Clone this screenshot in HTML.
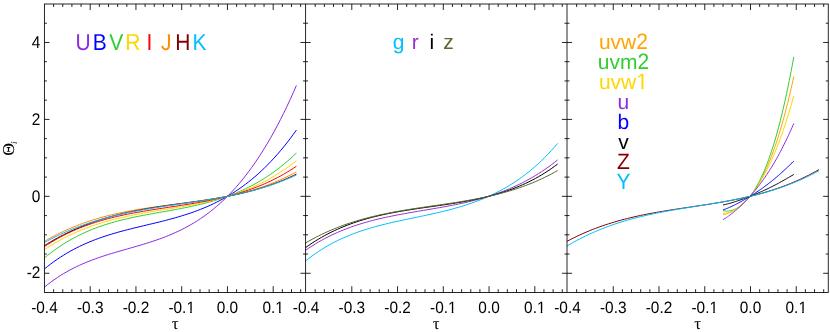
<!DOCTYPE html>
<html><head><meta charset="utf-8"><title>chart</title><style>html,body{margin:0;padding:0;background:#fff}svg{display:block;will-change:transform}svg text{text-rendering:geometricPrecision}</style></head><body>
<svg width="830" height="332" viewBox="0 0 830 332">
<rect width="830" height="332" fill="#fff"/>
<g fill="none" stroke-width="1.0" stroke-linecap="butt" stroke-linejoin="round">
<polyline stroke="#8a2be2" points="44.45,287.11 47.64,284.56 50.83,282.13 54.02,279.83 57.21,277.65 60.40,275.58 63.59,273.62 66.77,271.77 69.96,270.01 73.15,268.34 76.34,266.76 79.53,265.26 82.72,263.83 85.91,262.48 89.10,261.19 92.29,259.96 95.48,258.78 98.67,257.66 101.86,256.58 105.04,255.53 108.23,254.53 111.42,253.55 114.61,252.59 117.80,251.66 120.99,250.74 124.18,249.83 127.37,248.92 130.56,248.01 133.75,247.10 136.94,246.18 140.13,245.24 143.31,244.29 146.50,243.31 149.69,242.30 152.88,241.26 156.07,240.18 159.26,239.06 162.45,237.89 165.64,236.67 168.83,235.40 172.02,234.06 175.21,232.65 178.40,231.18 181.58,229.63 184.77,228.00 187.96,226.29 191.15,224.49 194.34,222.60 197.53,220.61 200.72,218.51 203.91,216.31 207.10,214.00 210.29,211.57 213.48,209.03 216.67,206.35 219.85,203.55 223.04,200.62 226.23,197.54 229.42,194.33 232.61,190.96 235.80,187.44 238.99,183.77 242.18,179.94 245.37,175.93 248.56,171.76 251.75,167.41 254.94,162.89 258.13,158.17 261.31,153.27 264.50,148.17 267.69,142.88 270.88,137.38 274.07,131.67 277.26,125.75 280.45,119.61 283.64,113.25 286.83,106.66 290.02,99.83 293.21,92.77 296.40,85.47"/>
<polyline stroke="#0000ff" points="44.45,268.93 47.64,266.36 50.83,263.90 54.02,261.56 57.21,259.33 60.40,257.20 63.59,255.17 66.77,253.24 69.96,251.40 73.15,249.66 76.34,247.99 79.53,246.41 82.72,244.90 85.91,243.47 89.10,242.10 92.29,240.80 95.48,239.56 98.67,238.38 101.86,237.26 105.04,236.18 108.23,235.15 111.42,234.16 114.61,233.21 117.80,232.30 120.99,231.42 124.18,230.56 127.37,229.73 130.56,228.92 133.75,228.13 136.94,227.35 140.13,226.58 143.31,225.82 146.50,225.06 149.69,224.30 152.88,223.54 156.07,222.77 159.26,221.99 162.45,221.19 165.64,220.38 168.83,219.54 172.02,218.68 175.21,217.79 178.40,216.88 181.58,215.92 184.77,214.93 187.96,213.90 191.15,212.82 194.34,211.69 197.53,210.52 200.72,209.28 203.91,207.99 207.10,206.64 210.29,205.22 213.48,203.73 216.67,202.18 219.85,200.54 223.04,198.83 226.23,197.04 229.42,195.16 232.61,193.20 235.80,191.14 238.99,188.98 242.18,186.73 245.37,184.38 248.56,181.92 251.75,179.35 254.94,176.67 258.13,173.88 261.31,170.96 264.50,167.93 267.69,164.77 270.88,161.47 274.07,158.05 277.26,154.49 280.45,150.79 283.64,146.95 286.83,142.96 290.02,138.82 293.21,134.53 296.40,130.08"/>
<polyline stroke="#32cd32" points="44.45,257.97 47.64,255.35 50.83,252.85 54.02,250.47 57.21,248.19 60.40,246.03 63.59,243.96 66.77,241.99 69.96,240.12 73.15,238.34 76.34,236.65 79.53,235.04 82.72,233.51 85.91,232.06 89.10,230.68 92.29,229.37 95.48,228.13 98.67,226.95 101.86,225.84 105.04,224.78 108.23,223.77 111.42,222.81 114.61,221.91 117.80,221.04 120.99,220.22 124.18,219.43 127.37,218.68 130.56,217.96 133.75,217.28 136.94,216.61 140.13,215.97 143.31,215.35 146.50,214.74 149.69,214.15 152.88,213.57 156.07,213.00 159.26,212.44 162.45,211.87 165.64,211.31 168.83,210.74 172.02,210.17 175.21,209.58 178.40,208.99 181.58,208.38 184.77,207.76 187.96,207.11 191.15,206.44 194.34,205.74 197.53,205.02 200.72,204.27 203.91,203.48 207.10,202.65 210.29,201.79 213.48,200.88 216.67,199.93 219.85,198.93 223.04,197.87 226.23,196.77 229.42,195.61 232.61,194.39 235.80,193.10 238.99,191.76 242.18,190.34 245.37,188.85 248.56,187.29 251.75,185.66 254.94,183.94 258.13,182.14 261.31,180.26 264.50,178.29 267.69,176.22 270.88,174.07 274.07,171.81 277.26,169.46 280.45,167.00 283.64,164.43 286.83,161.75 290.02,158.96 293.21,156.06 296.40,153.03"/>
<polyline stroke="#ffd700" points="44.45,249.62 47.64,247.53 50.83,245.52 54.02,243.59 57.21,241.73 60.40,239.96 63.59,238.26 66.77,236.63 69.96,235.07 73.15,233.58 76.34,232.15 79.53,230.79 82.72,229.48 85.91,228.24 89.10,227.05 92.29,225.91 95.48,224.82 98.67,223.79 101.86,222.80 105.04,221.85 108.23,220.95 111.42,220.09 114.61,219.26 117.80,218.47 120.99,217.72 124.18,216.99 127.37,216.29 130.56,215.62 133.75,214.98 136.94,214.36 140.13,213.75 143.31,213.16 146.50,212.59 149.69,212.04 152.88,211.49 156.07,210.95 159.26,210.42 162.45,209.89 165.64,209.36 168.83,208.84 172.02,208.31 175.21,207.77 178.40,207.23 181.58,206.68 184.77,206.12 187.96,205.54 191.15,204.95 194.34,204.34 197.53,203.71 200.72,203.05 203.91,202.37 207.10,201.66 210.29,200.92 213.48,200.15 216.67,199.35 219.85,198.50 223.04,197.62 226.23,196.70 229.42,195.73 232.61,194.71 235.80,193.65 238.99,192.53 242.18,191.36 245.37,190.14 248.56,188.85 251.75,187.51 254.94,186.10 258.13,184.62 261.31,183.08 264.50,181.46 267.69,179.77 270.88,178.00 274.07,176.16 277.26,174.23 280.45,172.22 283.64,170.13 286.83,167.94 290.02,165.66 293.21,163.29 296.40,160.82"/>
<polyline stroke="#ff0000" points="44.45,246.62 47.64,244.53 50.83,242.53 54.02,240.62 57.21,238.79 60.40,237.05 63.59,235.38 66.77,233.78 69.96,232.26 73.15,230.81 76.34,229.43 79.53,228.10 82.72,226.84 85.91,225.64 89.10,224.50 92.29,223.41 95.48,222.36 98.67,221.37 101.86,220.43 105.04,219.52 108.23,218.66 111.42,217.84 114.61,217.05 117.80,216.30 120.99,215.58 124.18,214.89 127.37,214.23 130.56,213.60 133.75,212.99 136.94,212.40 140.13,211.83 143.31,211.27 146.50,210.74 149.69,210.21 152.88,209.70 156.07,209.20 159.26,208.70 162.45,208.22 165.64,207.73 168.83,207.25 172.02,206.76 175.21,206.28 178.40,205.79 181.58,205.29 184.77,204.79 187.96,204.27 191.15,203.75 194.34,203.21 197.53,202.66 200.72,202.09 203.91,201.49 207.10,200.88 210.29,200.25 213.48,199.58 216.67,198.89 219.85,198.18 223.04,197.43 226.23,196.64 229.42,195.82 232.61,194.96 235.80,194.07 238.99,193.13 242.18,192.14 245.37,191.11 248.56,190.03 251.75,188.90 254.94,187.72 258.13,186.47 261.31,185.17 264.50,183.81 267.69,182.39 270.88,180.90 274.07,179.34 277.26,177.71 280.45,176.01 283.64,174.23 286.83,172.37 290.02,170.43 293.21,168.40 296.40,166.28"/>
<polyline stroke="#ff8c00" points="44.45,241.37 47.64,239.53 50.83,237.76 54.02,236.06 57.21,234.42 60.40,232.84 63.59,231.33 66.77,229.87 69.96,228.47 73.15,227.12 76.34,225.84 79.53,224.60 82.72,223.42 85.91,222.29 89.10,221.20 92.29,220.17 95.48,219.18 98.67,218.23 101.86,217.32 105.04,216.46 108.23,215.64 111.42,214.85 114.61,214.10 117.80,213.38 120.99,212.70 124.18,212.04 127.37,211.42 130.56,210.82 133.75,210.25 136.94,209.70 140.13,209.18 143.31,208.67 146.50,208.18 149.69,207.71 152.88,207.25 156.07,206.81 159.26,206.38 162.45,205.96 165.64,205.54 168.83,205.13 172.02,204.72 175.21,204.32 178.40,203.92 181.58,203.51 184.77,203.10 187.96,202.68 191.15,202.26 194.34,201.83 197.53,201.39 200.72,200.93 203.91,200.46 207.10,199.97 210.29,199.46 213.48,198.94 216.67,198.39 219.85,197.81 223.04,197.21 226.23,196.58 229.42,195.92 232.61,195.23 235.80,194.51 238.99,193.75 242.18,192.95 245.37,192.11 248.56,191.23 251.75,190.31 254.94,189.35 258.13,188.33 261.31,187.27 264.50,186.16 267.69,185.00 270.88,183.78 274.07,182.51 277.26,181.17 280.45,179.78 283.64,178.33 286.83,176.82 290.02,175.24 293.21,173.59 296.40,171.88"/>
<polyline stroke="#800000" points="44.45,245.52 47.64,243.56 50.83,241.66 54.02,239.83 57.21,238.07 60.40,236.36 63.59,234.71 66.77,233.13 69.96,231.60 73.15,230.13 76.34,228.71 79.53,227.35 82.72,226.04 85.91,224.78 89.10,223.58 92.29,222.42 95.48,221.31 98.67,220.24 101.86,219.22 105.04,218.24 108.23,217.30 111.42,216.41 114.61,215.55 117.80,214.73 120.99,213.94 124.18,213.18 127.37,212.46 130.56,211.77 133.75,211.11 136.94,210.47 140.13,209.86 143.31,209.27 146.50,208.71 149.69,208.16 152.88,207.63 156.07,207.12 159.26,206.63 162.45,206.15 165.64,205.68 168.83,205.22 172.02,204.77 175.21,204.32 178.40,203.88 181.58,203.44 184.77,203.00 187.96,202.56 191.15,202.12 194.34,201.68 197.53,201.22 200.72,200.76 203.91,200.29 207.10,199.81 210.29,199.31 213.48,198.80 216.67,198.27 219.85,197.73 223.04,197.16 226.23,196.57 229.42,195.95 232.61,195.31 235.80,194.63 238.99,193.93 242.18,193.20 245.37,192.43 248.56,191.63 251.75,190.79 254.94,189.91 258.13,188.99 261.31,188.02 264.50,187.02 267.69,185.96 270.88,184.86 274.07,183.71 277.26,182.50 280.45,181.24 283.64,179.93 286.83,178.56 290.02,177.13 293.21,175.64 296.40,174.09"/>
<polyline stroke="#00bfff" points="44.45,242.52 47.64,240.77 50.83,239.08 54.02,237.46 57.21,235.89 60.40,234.37 63.59,232.91 66.77,231.50 69.96,230.15 73.15,228.84 76.34,227.58 79.53,226.37 82.72,225.21 85.91,224.09 89.10,223.01 92.29,221.97 95.48,220.97 98.67,220.01 101.86,219.09 105.04,218.20 108.23,217.34 111.42,216.52 114.61,215.73 117.80,214.97 120.99,214.24 124.18,213.53 127.37,212.85 130.56,212.19 133.75,211.56 136.94,210.95 140.13,210.35 143.31,209.78 146.50,209.22 149.69,208.68 152.88,208.15 156.07,207.63 159.26,207.13 162.45,206.63 165.64,206.14 168.83,205.67 172.02,205.19 175.21,204.72 178.40,204.25 181.58,203.79 184.77,203.32 187.96,202.85 191.15,202.38 194.34,201.91 197.53,201.42 200.72,200.94 203.91,200.44 207.10,199.93 210.29,199.41 213.48,198.87 216.67,198.32 219.85,197.76 223.04,197.17 226.23,196.57 229.42,195.94 232.61,195.30 235.80,194.62 238.99,193.93 242.18,193.20 245.37,192.45 248.56,191.66 251.75,190.84 254.94,189.99 258.13,189.10 261.31,188.18 264.50,187.21 267.69,186.21 270.88,185.16 274.07,184.07 277.26,182.93 280.45,181.75 283.64,180.51 286.83,179.23 290.02,177.89 293.21,176.49 296.40,175.04"/>
<polyline stroke="#00bfff" points="305.65,260.96 308.84,258.43 312.03,256.01 315.22,253.72 318.41,251.54 321.60,249.47 324.79,247.50 327.97,245.63 331.16,243.86 334.35,242.18 337.54,240.58 340.73,239.06 343.92,237.62 347.11,236.25 350.30,234.95 353.49,233.71 356.68,232.53 359.87,231.42 363.06,230.35 366.24,229.33 369.43,228.36 372.62,227.44 375.81,226.55 379.00,225.69 382.19,224.87 385.38,224.08 388.57,223.32 391.76,222.57 394.95,221.85 398.14,221.15 401.33,220.46 404.51,219.78 407.70,219.11 410.89,218.44 414.08,217.78 417.27,217.11 420.46,216.45 423.65,215.78 426.84,215.10 430.03,214.40 433.22,213.70 436.41,212.98 439.60,212.23 442.78,211.47 445.97,210.68 449.16,209.86 452.35,209.02 455.54,208.14 458.73,207.22 461.92,206.27 465.11,205.27 468.30,204.23 471.49,203.14 474.68,202.00 477.87,200.81 481.05,199.56 484.24,198.25 487.43,196.87 490.62,195.44 493.81,193.93 497.00,192.35 500.19,190.69 503.38,188.95 506.57,187.13 509.76,185.22 512.95,183.23 516.14,181.13 519.33,178.94 522.51,176.65 525.70,174.25 528.89,171.74 532.08,169.11 535.27,166.37 538.46,163.50 541.65,160.50 544.84,157.37 548.03,154.10 551.22,150.68 554.41,147.12 557.60,143.41"/>
<polyline stroke="#9932cc" points="305.65,250.23 308.84,248.06 312.03,245.98 315.22,244.00 318.41,242.10 321.60,240.29 324.79,238.56 327.97,236.91 331.16,235.34 334.35,233.84 337.54,232.41 340.73,231.04 343.92,229.74 347.11,228.50 350.30,227.32 353.49,226.20 356.68,225.12 359.87,224.10 363.06,223.13 366.24,222.20 369.43,221.31 372.62,220.46 375.81,219.65 379.00,218.88 382.19,218.14 385.38,217.42 388.57,216.74 391.76,216.08 394.95,215.44 398.14,214.83 401.33,214.23 404.51,213.65 407.70,213.08 410.89,212.52 414.08,211.97 417.27,211.43 420.46,210.89 423.65,210.35 426.84,209.82 430.03,209.28 433.22,208.74 436.41,208.19 439.60,207.63 442.78,207.07 445.97,206.48 449.16,205.89 452.35,205.27 455.54,204.64 458.73,203.98 461.92,203.30 465.11,202.59 468.30,201.86 471.49,201.09 474.68,200.29 477.87,199.45 481.05,198.58 484.24,197.67 487.43,196.71 490.62,195.71 493.81,194.66 497.00,193.56 500.19,192.41 503.38,191.21 506.57,189.95 509.76,188.63 512.95,187.25 516.14,185.80 519.33,184.29 522.51,182.71 525.70,181.05 528.89,179.32 532.08,177.52 535.27,175.63 538.46,173.66 541.65,171.61 544.84,169.46 548.03,167.23 551.22,164.90 554.41,162.47 557.60,159.94"/>
<polyline stroke="#000000" points="305.65,247.54 308.84,245.30 312.03,243.15 315.22,241.11 318.41,239.16 321.60,237.29 324.79,235.52 327.97,233.83 331.16,232.21 334.35,230.68 337.54,229.22 340.73,227.83 343.92,226.50 347.11,225.24 350.30,224.05 353.49,222.91 356.68,221.83 359.87,220.80 363.06,219.82 366.24,218.90 369.43,218.01 372.62,217.17 375.81,216.38 379.00,215.62 382.19,214.89 385.38,214.20 388.57,213.54 391.76,212.91 394.95,212.31 398.14,211.73 401.33,211.17 404.51,210.64 407.70,210.12 410.89,209.62 414.08,209.13 417.27,208.65 420.46,208.18 423.65,207.72 426.84,207.26 430.03,206.81 433.22,206.36 436.41,205.90 439.60,205.44 442.78,204.98 445.97,204.51 449.16,204.03 452.35,203.53 455.54,203.02 458.73,202.50 461.92,201.95 465.11,201.39 468.30,200.80 471.49,200.19 474.68,199.54 477.87,198.87 481.05,198.16 484.24,197.42 487.43,196.64 490.62,195.82 493.81,194.96 497.00,194.05 500.19,193.09 503.38,192.08 506.57,191.01 509.76,189.89 512.95,188.71 516.14,187.47 519.33,186.16 522.51,184.78 525.70,183.33 528.89,181.80 532.08,180.19 535.27,178.51 538.46,176.73 541.65,174.87 544.84,172.91 548.03,170.86 551.22,168.70 554.41,166.44 557.60,164.07"/>
<polyline stroke="#556b2f" points="305.65,242.94 308.84,241.10 312.03,239.33 315.22,237.62 318.41,235.99 321.60,234.42 324.79,232.91 327.97,231.47 331.16,230.08 334.35,228.76 337.54,227.48 340.73,226.27 343.92,225.10 347.11,223.98 350.30,222.91 353.49,221.89 356.68,220.91 359.87,219.97 363.06,219.07 366.24,218.21 369.43,217.38 372.62,216.60 375.81,215.84 379.00,215.11 382.19,214.41 385.38,213.75 388.57,213.10 391.76,212.48 394.95,211.88 398.14,211.31 401.33,210.75 404.51,210.21 407.70,209.68 410.89,209.17 414.08,208.67 417.27,208.18 420.46,207.70 423.65,207.22 426.84,206.75 430.03,206.29 433.22,205.83 436.41,205.36 439.60,204.90 442.78,204.43 445.97,203.96 449.16,203.48 452.35,202.99 455.54,202.50 458.73,201.99 461.92,201.47 465.11,200.93 468.30,200.37 471.49,199.80 474.68,199.21 477.87,198.60 481.05,197.96 484.24,197.30 487.43,196.60 490.62,195.88 493.81,195.13 497.00,194.35 500.19,193.53 503.38,192.67 506.57,191.78 509.76,190.85 512.95,189.87 516.14,188.85 519.33,187.78 522.51,186.66 525.70,185.49 528.89,184.27 532.08,183.00 535.27,181.67 538.46,180.28 541.65,178.82 544.84,177.31 548.03,175.73 551.22,174.08 554.41,172.36 557.60,170.57"/>
<polyline stroke="#ffa500" points="723.01,214.27 723.90,214.19 724.80,214.07 725.70,213.90 726.59,213.69 727.49,213.44 728.38,213.15 729.28,212.83 730.17,212.46 731.07,212.07 731.97,211.64 732.86,211.18 733.76,210.69 734.65,210.16 735.55,209.61 736.45,209.02 737.34,208.41 738.24,207.77 739.13,207.09 740.03,206.39 740.93,205.65 741.82,204.88 742.72,204.08 743.61,203.25 744.51,202.39 745.40,201.49 746.30,200.56 747.20,199.59 748.09,198.59 748.99,197.55 749.88,196.48 750.78,195.36 751.68,194.20 752.57,193.01 753.47,191.77 754.36,190.48 755.26,189.16 756.16,187.79 757.05,186.37 757.95,184.90 758.84,183.39 759.74,181.83 760.63,180.21 761.53,178.55 762.43,176.83 763.32,175.05 764.22,173.23 765.11,171.34 766.01,169.40 766.91,167.41 767.80,165.35 768.70,163.23 769.59,161.06 770.49,158.82 771.39,156.52 772.28,154.16 773.18,151.73 774.07,149.24 774.97,146.68 775.86,144.06 776.76,141.37 777.66,138.61 778.55,135.78 779.45,132.88 780.34,129.92 781.24,126.88 782.14,123.77 783.03,120.59 783.93,117.34 784.82,114.01 785.72,110.61 786.62,107.14 787.51,103.58 788.41,99.96 789.30,96.25 790.20,92.46 791.10,88.60 791.99,84.66 792.89,80.63 793.78,76.52"/>
<polyline stroke="#32cd32" points="723.01,210.58 723.90,210.81 724.80,210.97 725.70,211.07 726.59,211.12 727.49,211.11 728.38,211.05 729.28,210.94 730.17,210.78 731.07,210.57 731.97,210.32 732.86,210.03 733.76,209.69 734.65,209.31 735.55,208.89 736.45,208.43 737.34,207.93 738.24,207.39 739.13,206.81 740.03,206.19 740.93,205.52 741.82,204.82 742.72,204.07 743.61,203.28 744.51,202.45 745.40,201.57 746.30,200.65 747.20,199.68 748.09,198.66 748.99,197.60 749.88,196.48 750.78,195.32 751.68,194.10 752.57,192.83 753.47,191.51 754.36,190.13 755.26,188.69 756.16,187.20 757.05,185.64 757.95,184.03 758.84,182.35 759.74,180.62 760.63,178.81 761.53,176.94 762.43,175.01 763.32,173.00 764.22,170.93 765.11,168.79 766.01,166.57 766.91,164.28 767.80,161.92 768.70,159.48 769.59,156.97 770.49,154.38 771.39,151.71 772.28,148.97 773.18,146.14 774.07,143.23 774.97,140.24 775.86,137.17 776.76,134.01 777.66,130.77 778.55,127.45 779.45,124.03 780.34,120.53 781.24,116.95 782.14,113.27 783.03,109.50 783.93,105.64 784.82,101.69 785.72,97.65 786.62,93.51 787.51,89.28 788.41,84.95 789.30,80.53 790.20,76.00 791.10,71.38 791.99,66.66 792.89,61.83 793.78,56.90"/>
<polyline stroke="#ffd700" points="723.01,213.23 723.90,213.29 724.80,213.27 725.70,213.20 726.59,213.07 727.49,212.89 728.38,212.66 729.28,212.38 730.17,212.06 731.07,211.70 731.97,211.29 732.86,210.85 733.76,210.37 734.65,209.86 735.55,209.32 736.45,208.74 737.34,208.13 738.24,207.49 739.13,206.82 740.03,206.12 740.93,205.40 741.82,204.64 742.72,203.85 743.61,203.03 744.51,202.19 745.40,201.31 746.30,200.40 747.20,199.47 748.09,198.50 748.99,197.50 749.88,196.47 750.78,195.41 751.68,194.31 752.57,193.18 753.47,192.01 754.36,190.81 755.26,189.57 756.16,188.30 757.05,186.99 757.95,185.65 758.84,184.26 759.74,182.84 760.63,181.37 761.53,179.87 762.43,178.32 763.32,176.74 764.22,175.11 765.11,173.44 766.01,171.73 766.91,169.98 767.80,168.18 768.70,166.33 769.59,164.45 770.49,162.52 771.39,160.54 772.28,158.52 773.18,156.46 774.07,154.35 774.97,152.19 775.86,149.99 776.76,147.74 777.66,145.45 778.55,143.11 779.45,140.72 780.34,138.28 781.24,135.80 782.14,133.27 783.03,130.70 783.93,128.07 784.82,125.40 785.72,122.68 786.62,119.91 787.51,117.09 788.41,114.21 789.30,111.29 790.20,108.32 791.10,105.29 791.99,102.21 792.89,99.07 793.78,95.88"/>
<polyline stroke="#8a2be2" points="723.01,219.65 723.90,219.12 724.80,218.58 725.70,218.01 726.59,217.42 727.49,216.81 728.38,216.19 729.28,215.54 730.17,214.88 731.07,214.20 731.97,213.51 732.86,212.79 733.76,212.07 734.65,211.32 735.55,210.56 736.45,209.79 737.34,209.00 738.24,208.20 739.13,207.38 740.03,206.55 740.93,205.70 741.82,204.84 742.72,203.97 743.61,203.08 744.51,202.18 745.40,201.26 746.30,200.33 747.20,199.39 748.09,198.43 748.99,197.45 749.88,196.46 750.78,195.46 751.68,194.44 752.57,193.40 753.47,192.35 754.36,191.28 755.26,190.20 756.16,189.09 757.05,187.97 757.95,186.84 758.84,185.68 759.74,184.51 760.63,183.32 761.53,182.11 762.43,180.88 763.32,179.63 764.22,178.36 765.11,177.07 766.01,175.76 766.91,174.43 767.80,173.08 768.70,171.71 769.59,170.31 770.49,168.89 771.39,167.45 772.28,165.99 773.18,164.50 774.07,162.99 774.97,161.45 775.86,159.90 776.76,158.31 777.66,156.71 778.55,155.07 779.45,153.42 780.34,151.74 781.24,150.03 782.14,148.30 783.03,146.54 783.93,144.76 784.82,142.95 785.72,141.12 786.62,139.26 787.51,137.38 788.41,135.48 789.30,133.54 790.20,131.59 791.10,129.61 791.99,127.61 792.89,125.58 793.78,123.53"/>
<polyline stroke="#0000ff" points="723.01,209.90 723.90,209.60 724.80,209.28 725.70,208.94 726.59,208.59 727.49,208.23 728.38,207.85 729.28,207.47 730.17,207.07 731.07,206.66 731.97,206.25 732.86,205.82 733.76,205.39 734.65,204.94 735.55,204.49 736.45,204.03 737.34,203.57 738.24,203.09 739.13,202.62 740.03,202.13 740.93,201.64 741.82,201.14 742.72,200.64 743.61,200.13 744.51,199.61 745.40,199.09 746.30,198.56 747.20,198.03 748.09,197.50 748.99,196.95 749.88,196.40 750.78,195.85 751.68,195.29 752.57,194.73 753.47,194.16 754.36,193.58 755.26,193.00 756.16,192.41 757.05,191.82 757.95,191.21 758.84,190.61 759.74,189.99 760.63,189.37 761.53,188.75 762.43,188.11 763.32,187.47 764.22,186.82 765.11,186.17 766.01,185.51 766.91,184.84 767.80,184.16 768.70,183.47 769.59,182.78 770.49,182.08 771.39,181.37 772.28,180.65 773.18,179.92 774.07,179.19 774.97,178.44 775.86,177.69 776.76,176.93 777.66,176.16 778.55,175.39 779.45,174.60 780.34,173.81 781.24,173.01 782.14,172.20 783.03,171.39 783.93,170.56 784.82,169.73 785.72,168.89 786.62,168.05 787.51,167.20 788.41,166.34 789.30,165.48 790.20,164.61 791.10,163.74 791.99,162.86 792.89,161.98 793.78,161.10"/>
<polyline stroke="#000000" points="723.01,204.95 723.90,204.77 724.80,204.58 725.70,204.37 726.59,204.16 727.49,203.94 728.38,203.70 729.28,203.46 730.17,203.21 731.07,202.95 731.97,202.69 732.86,202.41 733.76,202.14 734.65,201.85 735.55,201.56 736.45,201.27 737.34,200.97 738.24,200.67 739.13,200.36 740.03,200.04 740.93,199.73 741.82,199.41 742.72,199.08 743.61,198.76 744.51,198.43 745.40,198.09 746.30,197.76 747.20,197.42 748.09,197.07 748.99,196.73 749.88,196.38 750.78,196.03 751.68,195.67 752.57,195.31 753.47,194.95 754.36,194.59 755.26,194.22 756.16,193.84 757.05,193.47 757.95,193.09 758.84,192.71 759.74,192.32 760.63,191.93 761.53,191.54 762.43,191.14 763.32,190.73 764.22,190.33 765.11,189.92 766.01,189.50 766.91,189.08 767.80,188.66 768.70,188.23 769.59,187.79 770.49,187.35 771.39,186.91 772.28,186.46 773.18,186.00 774.07,185.55 774.97,185.08 775.86,184.61 776.76,184.14 777.66,183.66 778.55,183.18 779.45,182.69 780.34,182.20 781.24,181.71 782.14,181.21 783.03,180.70 783.93,180.20 784.82,179.69 785.72,179.17 786.62,178.66 787.51,178.14 788.41,177.62 789.30,177.09 790.20,176.57 791.10,176.04 791.99,175.52 792.89,174.99 793.78,174.47"/>
<polyline stroke="#800000" points="567.00,241.34 570.19,239.65 573.38,238.03 576.57,236.47 579.76,234.97 582.95,233.53 586.14,232.14 589.32,230.81 592.51,229.53 595.70,228.30 598.89,227.12 602.08,225.98 605.27,224.90 608.46,223.86 611.65,222.86 614.84,221.90 618.03,220.98 621.22,220.10 624.41,219.25 627.59,218.44 630.78,217.66 633.97,216.92 637.16,216.20 640.35,215.51 643.54,214.85 646.73,214.21 649.92,213.59 653.11,212.99 656.30,212.42 659.49,211.86 662.68,211.32 665.86,210.79 669.05,210.27 672.24,209.77 675.43,209.27 678.62,208.78 681.81,208.30 685.00,207.82 688.19,207.35 691.38,206.88 694.57,206.40 697.76,205.93 700.95,205.45 704.13,204.96 707.32,204.47 710.51,203.96 713.70,203.45 716.89,202.92 720.08,202.38 723.27,201.83 726.46,201.26 729.65,200.67 732.84,200.05 736.03,199.42 739.22,198.76 742.40,198.08 745.59,197.36 748.78,196.62 751.97,195.85 755.16,195.05 758.35,194.21 761.54,193.34 764.73,192.43 767.92,191.48 771.11,190.49 774.30,189.46 777.49,188.38 780.68,187.26 783.86,186.09 787.05,184.87 790.24,183.60 793.43,182.28 796.62,180.90 799.81,179.47 803.00,177.98 806.19,176.43 809.38,174.83 812.57,173.16 815.76,171.42 818.95,169.62"/>
<polyline stroke="#00bfff" points="567.00,246.05 570.19,244.16 573.38,242.34 576.57,240.59 579.76,238.90 582.95,237.28 586.14,235.71 589.32,234.20 592.51,232.76 595.70,231.36 598.89,230.02 602.08,228.74 605.27,227.50 608.46,226.31 611.65,225.17 614.84,224.08 618.03,223.03 621.22,222.02 624.41,221.05 627.59,220.12 630.78,219.22 633.97,218.37 637.16,217.54 640.35,216.75 643.54,215.99 646.73,215.25 649.92,214.55 653.11,213.86 656.30,213.21 659.49,212.57 662.68,211.95 665.86,211.35 669.05,210.77 672.24,210.20 675.43,209.65 678.62,209.11 681.81,208.57 685.00,208.05 688.19,207.53 691.38,207.01 694.57,206.50 697.76,205.99 700.95,205.48 704.13,204.97 707.32,204.45 710.51,203.93 713.70,203.40 716.89,202.86 720.08,202.32 723.27,201.75 726.46,201.18 729.65,200.59 732.84,199.98 736.03,199.35 739.22,198.70 742.40,198.03 745.59,197.34 748.78,196.62 751.97,195.87 755.16,195.09 758.35,194.28 761.54,193.44 764.73,192.56 767.92,191.65 771.11,190.70 774.30,189.71 777.49,188.67 780.68,187.60 783.86,186.48 787.05,185.31 790.24,184.10 793.43,182.84 796.62,181.52 799.81,180.15 803.00,178.73 806.19,177.25 809.38,175.71 812.57,174.11 815.76,172.45 818.95,170.73"/>
</g>
<g stroke="#000" stroke-width="0.85" fill="none" stroke-linecap="butt">
<path d="M53.60 292.50v-3.3M53.60 4.00v3.0M62.75 292.50v-3.3M62.75 4.00v3.0M71.90 292.50v-3.3M71.90 4.00v3.0M81.05 292.50v-3.3M81.05 4.00v3.0M90.20 292.50v-6.3M90.20 4.00v6.0M99.35 292.50v-3.3M99.35 4.00v3.0M108.50 292.50v-3.3M108.50 4.00v3.0M117.65 292.50v-3.3M117.65 4.00v3.0M126.80 292.50v-3.3M126.80 4.00v3.0M135.95 292.50v-6.3M135.95 4.00v6.0M145.10 292.50v-3.3M145.10 4.00v3.0M154.25 292.50v-3.3M154.25 4.00v3.0M163.40 292.50v-3.3M163.40 4.00v3.0M172.55 292.50v-3.3M172.55 4.00v3.0M181.70 292.50v-6.3M181.70 4.00v6.0M190.85 292.50v-3.3M190.85 4.00v3.0M200.00 292.50v-3.3M200.00 4.00v3.0M209.15 292.50v-3.3M209.15 4.00v3.0M218.30 292.50v-3.3M218.30 4.00v3.0M227.45 292.50v-6.3M227.45 4.00v6.0M236.60 292.50v-3.3M236.60 4.00v3.0M245.75 292.50v-3.3M245.75 4.00v3.0M254.90 292.50v-3.3M254.90 4.00v3.0M264.05 292.50v-3.3M264.05 4.00v3.0M273.20 292.50v-6.3M273.20 4.00v6.0M282.35 292.50v-3.3M282.35 4.00v3.0M291.50 292.50v-3.3M291.50 4.00v3.0M300.65 292.50v-3.3M300.65 4.00v3.0M44.40 273.27h5.1M305.55 273.27h-5.1M44.40 254.03h2.5M305.55 254.03h-2.5M44.40 234.80h2.5M305.55 234.80h-2.5M44.40 215.57h2.5M305.55 215.57h-2.5M44.40 196.33h5.1M305.55 196.33h-5.1M44.40 177.10h2.5M305.55 177.10h-2.5M44.40 157.87h2.5M305.55 157.87h-2.5M44.40 138.63h2.5M305.55 138.63h-2.5M44.40 119.40h5.1M305.55 119.40h-5.1M44.40 100.17h2.5M305.55 100.17h-2.5M44.40 80.93h2.5M305.55 80.93h-2.5M44.40 61.70h2.5M305.55 61.70h-2.5M44.40 42.47h5.1M305.55 42.47h-5.1M44.40 23.23h2.5M305.55 23.23h-2.5M315.20 292.50v-3.3M315.20 4.00v3.0M324.35 292.50v-3.3M324.35 4.00v3.0M333.50 292.50v-3.3M333.50 4.00v3.0M342.65 292.50v-3.3M342.65 4.00v3.0M351.80 292.50v-6.3M351.80 4.00v6.0M360.95 292.50v-3.3M360.95 4.00v3.0M370.10 292.50v-3.3M370.10 4.00v3.0M379.25 292.50v-3.3M379.25 4.00v3.0M388.40 292.50v-3.3M388.40 4.00v3.0M397.55 292.50v-6.3M397.55 4.00v6.0M406.70 292.50v-3.3M406.70 4.00v3.0M415.85 292.50v-3.3M415.85 4.00v3.0M425.00 292.50v-3.3M425.00 4.00v3.0M434.15 292.50v-3.3M434.15 4.00v3.0M443.30 292.50v-6.3M443.30 4.00v6.0M452.45 292.50v-3.3M452.45 4.00v3.0M461.60 292.50v-3.3M461.60 4.00v3.0M470.75 292.50v-3.3M470.75 4.00v3.0M479.90 292.50v-3.3M479.90 4.00v3.0M489.05 292.50v-6.3M489.05 4.00v6.0M498.20 292.50v-3.3M498.20 4.00v3.0M507.35 292.50v-3.3M507.35 4.00v3.0M516.50 292.50v-3.3M516.50 4.00v3.0M525.65 292.50v-3.3M525.65 4.00v3.0M534.80 292.50v-6.3M534.80 4.00v6.0M543.95 292.50v-3.3M543.95 4.00v3.0M553.10 292.50v-3.3M553.10 4.00v3.0M562.25 292.50v-3.3M562.25 4.00v3.0M305.55 273.27h5.1M567.00 273.27h-5.1M305.55 254.03h2.5M567.00 254.03h-2.5M305.55 234.80h2.5M567.00 234.80h-2.5M305.55 215.57h2.5M567.00 215.57h-2.5M305.55 196.33h5.1M567.00 196.33h-5.1M305.55 177.10h2.5M567.00 177.10h-2.5M305.55 157.87h2.5M567.00 157.87h-2.5M305.55 138.63h2.5M567.00 138.63h-2.5M305.55 119.40h5.1M567.00 119.40h-5.1M305.55 100.17h2.5M567.00 100.17h-2.5M305.55 80.93h2.5M567.00 80.93h-2.5M305.55 61.70h2.5M567.00 61.70h-2.5M305.55 42.47h5.1M567.00 42.47h-5.1M305.55 23.23h2.5M567.00 23.23h-2.5M576.65 292.50v-3.3M576.65 4.00v3.0M585.80 292.50v-3.3M585.80 4.00v3.0M594.95 292.50v-3.3M594.95 4.00v3.0M604.10 292.50v-3.3M604.10 4.00v3.0M613.25 292.50v-6.3M613.25 4.00v6.0M622.40 292.50v-3.3M622.40 4.00v3.0M631.55 292.50v-3.3M631.55 4.00v3.0M640.70 292.50v-3.3M640.70 4.00v3.0M649.85 292.50v-3.3M649.85 4.00v3.0M659.00 292.50v-6.3M659.00 4.00v6.0M668.15 292.50v-3.3M668.15 4.00v3.0M677.30 292.50v-3.3M677.30 4.00v3.0M686.45 292.50v-3.3M686.45 4.00v3.0M695.60 292.50v-3.3M695.60 4.00v3.0M704.75 292.50v-6.3M704.75 4.00v6.0M713.90 292.50v-3.3M713.90 4.00v3.0M723.05 292.50v-3.3M723.05 4.00v3.0M732.20 292.50v-3.3M732.20 4.00v3.0M741.35 292.50v-3.3M741.35 4.00v3.0M750.50 292.50v-6.3M750.50 4.00v6.0M759.65 292.50v-3.3M759.65 4.00v3.0M768.80 292.50v-3.3M768.80 4.00v3.0M777.95 292.50v-3.3M777.95 4.00v3.0M787.10 292.50v-3.3M787.10 4.00v3.0M796.25 292.50v-6.3M796.25 4.00v6.0M805.40 292.50v-3.3M805.40 4.00v3.0M814.55 292.50v-3.3M814.55 4.00v3.0M823.70 292.50v-3.3M823.70 4.00v3.0M567.00 273.27h5.1M828.25 273.27h-5.1M567.00 254.03h2.5M828.25 254.03h-2.5M567.00 234.80h2.5M828.25 234.80h-2.5M567.00 215.57h2.5M828.25 215.57h-2.5M567.00 196.33h5.1M828.25 196.33h-5.1M567.00 177.10h2.5M828.25 177.10h-2.5M567.00 157.87h2.5M828.25 157.87h-2.5M567.00 138.63h2.5M828.25 138.63h-2.5M567.00 119.40h5.1M828.25 119.40h-5.1M567.00 100.17h2.5M828.25 100.17h-2.5M567.00 80.93h2.5M828.25 80.93h-2.5M567.00 61.70h2.5M828.25 61.70h-2.5M567.00 42.47h5.1M828.25 42.47h-5.1M567.00 23.23h2.5M828.25 23.23h-2.5"/>
<rect x="44.4" y="4.00" width="783.85" height="288.50"/>
<path d="M305.55 4.00V292.50M567.0 4.00V292.50"/>
</g>
<g font-family="Liberation Sans, sans-serif" font-size="15.4" fill="#000" text-anchor="middle">
<text transform="translate(44.45,312.55) scale(1,1.07)">-0.4</text>
<text transform="translate(90.20,312.55) scale(1,1.07)">-0.3</text>
<text transform="translate(135.95,312.55) scale(1,1.07)">-0.2</text>
<text transform="translate(181.70,312.55) scale(1,1.07)">-0.1</text>
<text transform="translate(227.45,312.55) scale(1,1.07)">0.0</text>
<text transform="translate(273.20,312.55) scale(1,1.07)">0.1</text>
<text transform="translate(306.05,312.55) scale(1,1.07)">-0.4</text>
<text transform="translate(351.80,312.55) scale(1,1.07)">-0.3</text>
<text transform="translate(397.55,312.55) scale(1,1.07)">-0.2</text>
<text transform="translate(443.30,312.55) scale(1,1.07)">-0.1</text>
<text transform="translate(489.05,312.55) scale(1,1.07)">0.0</text>
<text transform="translate(534.80,312.55) scale(1,1.07)">0.1</text>
<text transform="translate(567.50,312.55) scale(1,1.07)">-0.4</text>
<text transform="translate(613.25,312.55) scale(1,1.07)">-0.3</text>
<text transform="translate(659.00,312.55) scale(1,1.07)">-0.2</text>
<text transform="translate(704.75,312.55) scale(1,1.07)">-0.1</text>
<text transform="translate(750.50,312.55) scale(1,1.07)">0.0</text>
<text transform="translate(796.25,312.55) scale(1,1.07)">0.1</text>
</g>
<g font-family="Liberation Sans, sans-serif" font-size="15.4" fill="#000" text-anchor="end">
<text transform="translate(40.40,47.67) scale(1,1.1)">4</text>
<text transform="translate(40.40,124.60) scale(1,1.1)">2</text>
<text transform="translate(40.40,201.53) scale(1,1.1)">0</text>
<text transform="translate(40.40,278.47) scale(1,1.1)">-2</text>
</g>
<g font-family="Liberation Serif, serif" font-size="17" fill="#000" text-anchor="middle">
<text x="175.08" y="329">τ</text>
<text x="436.28" y="329">τ</text>
<text x="697.63" y="329">τ</text>
<text transform="translate(13.75,149.4) rotate(-90) scale(1.05,1)" font-size="16.7" stroke="#000" stroke-width="0.1">Θ</text>
<text transform="translate(16.8,142.7) rotate(-90)" font-size="9.3" font-style="italic">i</text>
</g>
<g font-family="Liberation Sans, sans-serif" font-size="21" text-anchor="middle">
<text transform="translate(83.05,50.00) scale(1,1.1)" fill="#8a2be2">U</text>
<text transform="translate(99.67,50.00) scale(1,1.1)" fill="#0000ff">B</text>
<text transform="translate(116.29,50.00) scale(1,1.1)" fill="#32cd32">V</text>
<text transform="translate(132.91,50.00) scale(1,1.1)" fill="#ffd700">R</text>
<text transform="translate(149.53,50.00) scale(1,1.1)" fill="#ff0000">I</text>
<text transform="translate(166.15,50.00) scale(1,1.1)" fill="#ff8c00">J</text>
<text transform="translate(182.77,50.00) scale(1,1.1)" fill="#800000">H</text>
<text transform="translate(199.39,50.00) scale(1,1.1)" fill="#00bfff">K</text>
<text transform="translate(398.69,49.30) scale(1,1.0)" fill="#00bfff">g</text>
<text transform="translate(415.31,49.30) scale(1,1.0)" fill="#9932cc">r</text>
<text transform="translate(431.93,49.30) scale(1,1.0)" fill="#000000">i</text>
<text transform="translate(448.55,49.30) scale(1,1.0)" fill="#556b2f">z</text>
<text transform="translate(598.89,49.00) scale(1,0.99)" fill="#ffa500" text-anchor="start">uvw</text>
<text transform="translate(636.23,49.00) scale(1,1.06)" fill="#ffa500" text-anchor="start">2</text>
<text transform="translate(597.72,69.00) scale(1,0.99)" fill="#32cd32" text-anchor="start">uvm</text>
<text transform="translate(637.40,69.00) scale(1,1.06)" fill="#32cd32" text-anchor="start">2</text>
<text transform="translate(598.89,89.00) scale(1,0.99)" fill="#ffd700" text-anchor="start">uvw</text>
<text transform="translate(636.23,89.00) scale(1,1.06)" fill="#ffd700" text-anchor="start">1</text>
<text transform="translate(623.40,109.00) scale(1,1.0)" fill="#8a2be2">u</text>
<text transform="translate(623.40,129.00) scale(1,1.0)" fill="#0000ff">b</text>
<text transform="translate(623.40,149.00) scale(1,1.0)" fill="#000000">v</text>
<text transform="translate(623.40,169.00) scale(1,1.06)" fill="#800000">Z</text>
<text transform="translate(623.40,189.00) scale(1,1.06)" fill="#00bfff">Y</text>
</g>
<rect x="185.70" y="310.72" width="4.45" height="2.63" fill="#fff"/><rect x="191.76" y="310.72" width="4.13" height="2.63" fill="#fff"/>
<rect x="274.64" y="310.72" width="4.45" height="2.63" fill="#fff"/><rect x="280.69" y="310.72" width="4.13" height="2.63" fill="#fff"/>
<rect x="447.30" y="310.72" width="4.45" height="2.63" fill="#fff"/><rect x="453.36" y="310.72" width="4.13" height="2.63" fill="#fff"/>
<rect x="536.24" y="310.72" width="4.45" height="2.63" fill="#fff"/><rect x="542.29" y="310.72" width="4.13" height="2.63" fill="#fff"/>
<rect x="708.75" y="310.72" width="4.45" height="2.63" fill="#fff"/><rect x="714.81" y="310.72" width="4.13" height="2.63" fill="#fff"/>
<rect x="797.69" y="310.72" width="4.45" height="2.63" fill="#fff"/><rect x="803.74" y="310.72" width="4.13" height="2.63" fill="#fff"/>
<rect x="636.68" y="86.74" width="4.71" height="3.06" fill="#fff"/><rect x="643.49" y="86.74" width="5.34" height="3.06" fill="#fff"/>
<rect x="164.31" y="33.31" width="3.46" height="3.26" fill="#fff"/>
</svg>
</body></html>
